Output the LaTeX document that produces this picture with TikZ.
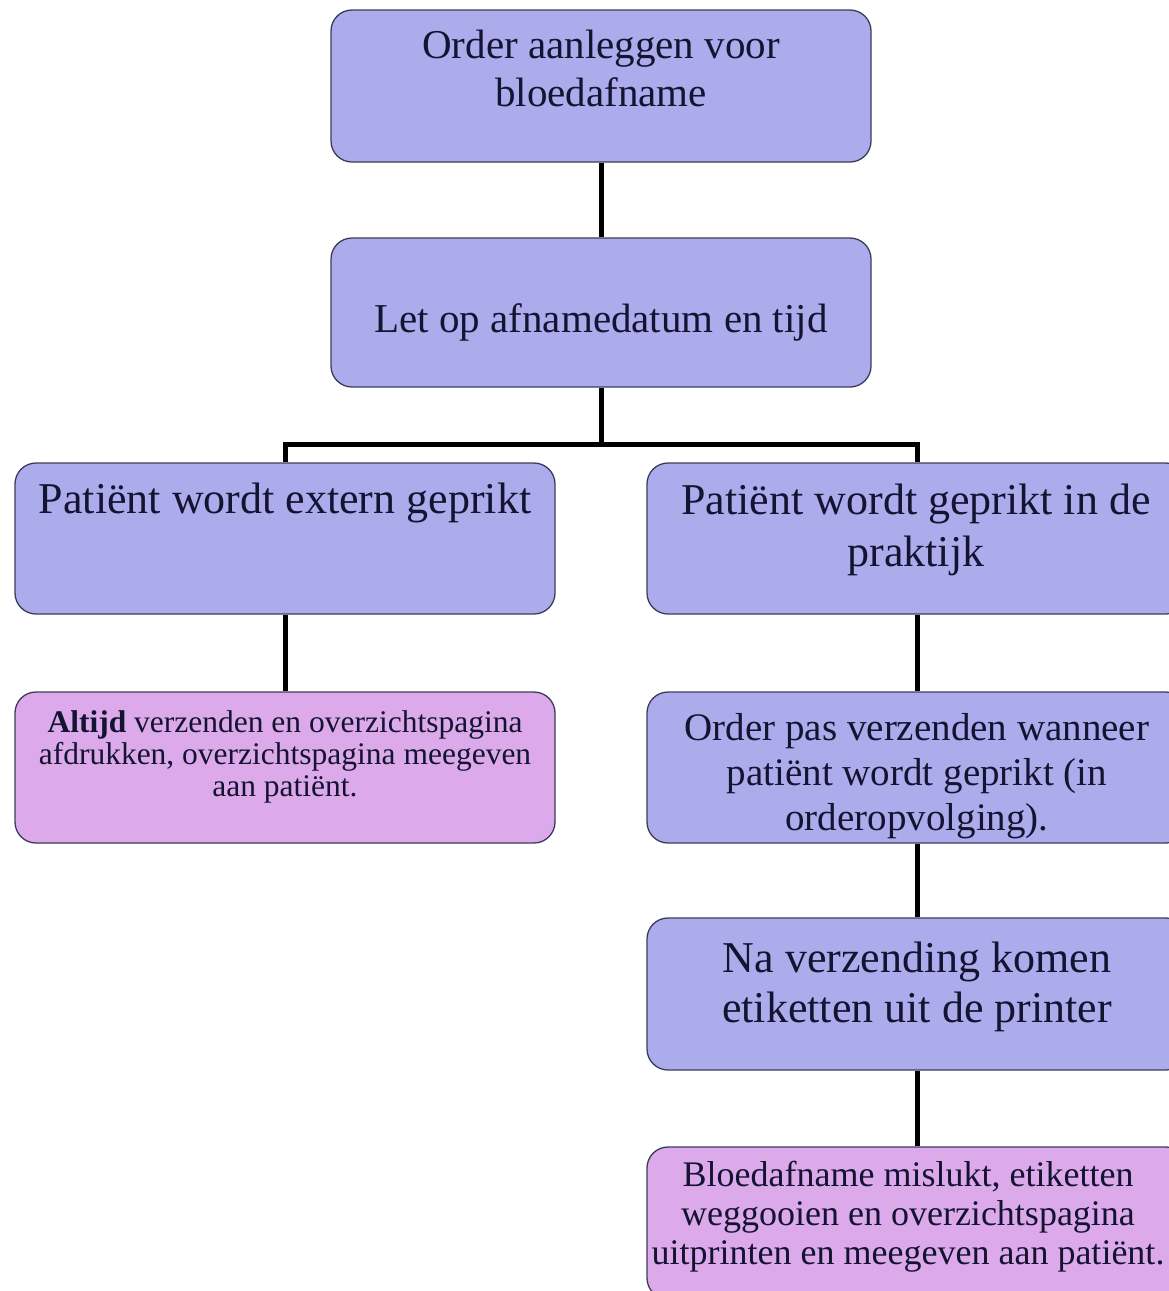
\documentclass[tikz,border=0pt]{standalone}
\usepackage{fontspec}
\setmainfont{Liberation Serif}
\definecolor{boxblue}{RGB}{172,172,236}
\definecolor{boxpink}{RGB}{220,170,234}
\definecolor{boxedge}{RGB}{60,60,90}
\definecolor{txt}{RGB}{20,20,50}
\tikzset{
  boxbase/.style={draw=boxedge, line width=1.3pt, rounded corners=21pt, minimum width=540pt, inner sep=0pt},
  bluebox/.style={boxbase, fill=boxblue},
  pinkbox/.style={boxbase, fill=boxpink},
  lbl/.style={text=txt, align=center, inner sep=0pt},
  conn/.style={line width=5pt, black},
}
\begin{document}
\begin{tikzpicture}[x=1pt,y=-1pt]
\useasboundingbox (0,0) rectangle (1168,1291);
\fill[white] (0,0) rectangle (1168,1291);
% boxes
\node[bluebox, minimum height=152pt] (b1) at (601,86) {};
\node[bluebox, minimum height=149pt] (b2) at (601,312.5) {};
\node[bluebox, minimum height=151pt] (b3) at (285,538.5) {};
\node[bluebox, minimum height=151pt] (b4) at (917,538.5) {};
\node[pinkbox, minimum height=151pt] (b5) at (285,767.5) {};
\node[bluebox, minimum height=151pt] (b6) at (917,767.5) {};
\node[bluebox, minimum height=152pt] (b7) at (917,994) {};
\node[pinkbox, minimum height=152pt] (b8) at (917,1223) {};
% texts
\node[lbl, font=\fontsize{41}{48}\selectfont] (t1) at (601,68) {Order aanleggen voor\\bloedafname};
\node[lbl, font=\fontsize{41}{48}\selectfont] (t2) at (601,322) {Let op afnamedatum en tijd};
\node[lbl, font=\fontsize{44}{52}\selectfont] (t3) at (285,503) {Patiënt wordt extern geprikt};
\node[lbl, font=\fontsize{44}{52}\selectfont] (t4) at (916,530) {Patiënt wordt geprikt in de\\praktijk};
\node[lbl, font=\fontsize{31.5}{32}\selectfont] (t5) at (285,757) {\textbf{Altijd} verzenden en overzichtspagina\\afdrukken, overzichtspagina meegeven\\aan patiënt.};
\node[lbl, font=\fontsize{39}{45}\selectfont] (t6) at (917,776) {Order pas verzenden wanneer\\patiënt wordt geprikt (in\\orderopvolging).};
\node[lbl, font=\fontsize{44}{50}\selectfont] (t7) at (917,987) {Na verzending komen\\etiketten uit de printer};
\node[lbl, font=\fontsize{36}{39}\selectfont] (t8) at (908,1217) {Bloedafname mislukt, etiketten\\weggooien en overzichtspagina\\uitprinten en meegeven aan patiënt.};
% connectors
\coordinate (jy) at (0,444);
\coordinate (jc) at (b2.south |- jy);
\draw[conn] (b1.south) -- (b2.north);
\draw[conn] (b2.south) -- (jc);
\draw[conn, line cap=rect] (jc -| b3.north) -- (jc -| b4.north);
\draw[conn] (jc -| b3.north) -- (b3.north);
\draw[conn] (jc -| b4.north) -- (b4.north);
\draw[conn] (b3.south) -- (b5.north);
\draw[conn] (b4.south) -- (b6.north);
\draw[conn] (b6.south) -- (b7.north);
\draw[conn] (b7.south) -- (b8.north);
\end{tikzpicture}
\end{document}
